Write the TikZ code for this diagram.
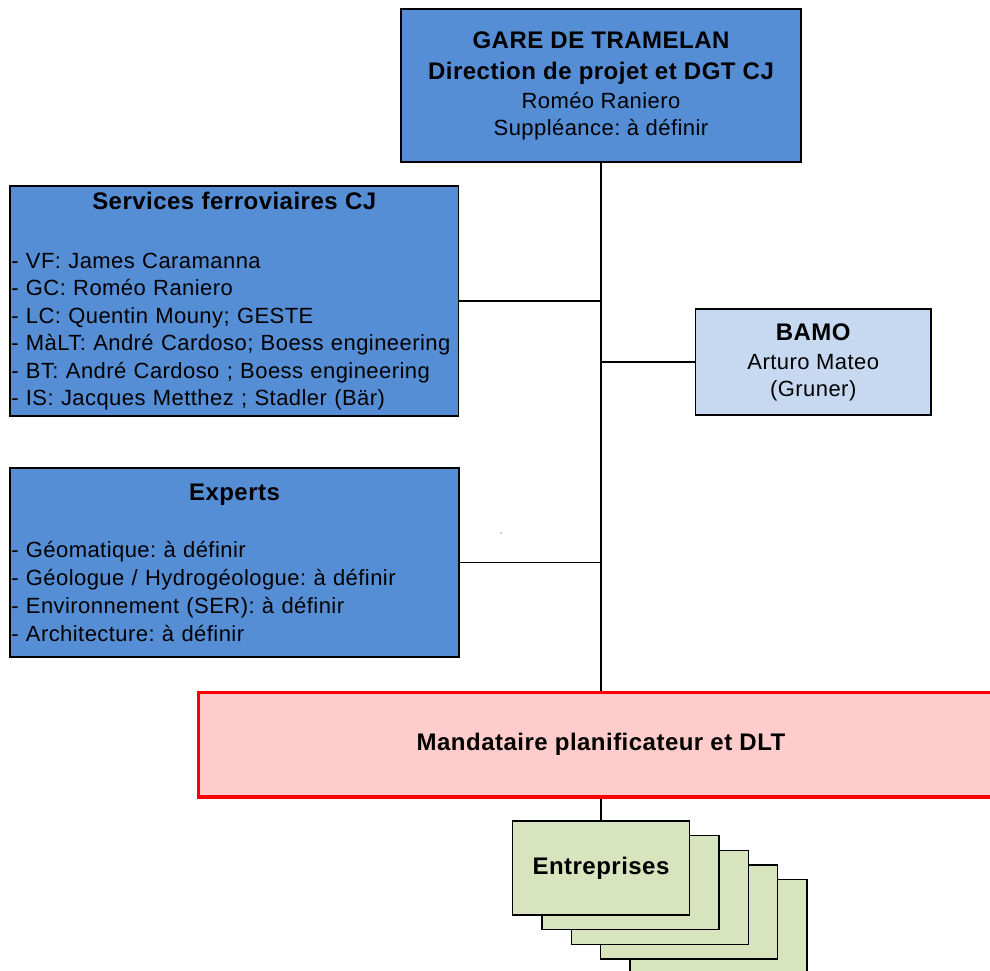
\documentclass[tikz,border=0pt]{standalone}
\usepackage{fontspec}
\setmainfont{Liberation Sans}[LetterSpace=2,Ligatures=NoCommon]
\frenchspacing
\definecolor{cjblue}{RGB}{85,142,213}
\definecolor{bamoblue}{RGB}{198,217,241}
\definecolor{mandpink}{RGB}{255,204,204}
\definecolor{mandred}{RGB}{255,0,0}
\definecolor{entgreen}{RGB}{215,228,189}
\newcommand{\hd}{\fontsize{24}{27}\selectfont\bfseries}
\begin{document}
\begin{tikzpicture}[x=1pt,y=-1pt,
  every node/.style={font=\fontsize{22}{27}\selectfont\frenchspacing},
  cjbox/.style={draw=black, line width=1.3pt, fill=cjblue, inner sep=0pt},
  bamobox/.style={draw=black, line width=1.3pt, fill=bamoblue, inner sep=0pt},
  mandbox/.style={draw=mandred, line width=3.5pt, fill=mandpink, inner sep=0pt},
  entbox/.style={draw=black, line width=1.3pt, fill=entgreen, inner sep=0pt,
    minimum width=177pt, minimum height=94pt},
  conn/.style={draw=black, line width=1.3pt}]
\path[fill=white,use as bounding box] (0,0) rectangle (990,970);

% top box
\node[cjbox, minimum width=400pt, minimum height=153pt, align=center] (top) at (601,85.5)
  {{\hd GARE DE TRAMELAN}\\[4pt]{\hd Direction de projet et DGT CJ}\\[2pt]Roméo Raniero\\Suppléance: à définir};

% services ferroviaires
\node[cjbox, minimum width=448.5pt, minimum height=230pt, text width=446pt, inner xsep=1.25pt, align=left,
  font=\fontsize{22}{27.4}\selectfont\frenchspacing] (serv) at (234.25,301)
  {\makebox[\hsize]{\hd Services ferroviaires CJ}\\[31.6pt]
   - VF: James Caramanna\\
   - GC: Roméo Raniero\\
   - LC: Quentin Mouny; GESTE\\
   - MàLT: André Cardoso; Boess engineering\\
   - BT: André Cardoso ; Boess engineering\\
   - IS: Jacques Metthez ; Stadler (Bär)};

% BAMO
\node[bamobox, minimum width=235.5pt, minimum height=106pt, align=center] (bamo) at (813.25,362)
  {{\hd BAMO}\\[2pt]Arturo Mateo\\(Gruner)};

% experts
\node[cjbox, minimum width=449pt, minimum height=189pt, text width=446.5pt, inner xsep=1.25pt, align=left,
  font=\fontsize{22}{28}\selectfont\frenchspacing] (exp) at (234.5,562.5)
  {\makebox[\hsize]{\hd Experts}\\[29pt]
   - Géomatique: à définir\\
   - Géologue / Hydrogéologue: à définir\\
   - Environnement (SER): à définir\\
   - Architecture: à définir};

% mandataire
\node[mandbox, minimum width=805pt, minimum height=104.5pt] (mand) at (601,744.75)
  {\hd Mandataire planificateur et DLT};

% entreprises stack
\foreach \k in {4,3,2,1}{
  \node[entbox] (ent\k) at (601+29.4*\k, 868+14.7*\k) {};
}
\node[entbox] (ent0) at (601,868) {\hd Entreprises};

% connectors
\draw[conn] (top.south) -- (top.south |- mand.north);
\draw[conn] (serv.east) -- (serv.east -| top.south);
\draw[conn] (bamo.west) -- (bamo.west -| top.south);
\draw[conn] (exp.east) -- (exp.east -| top.south);
\draw[conn] (mand.south) -- (ent0.north);

% stray dot
\fill[black!70] (501,533) circle (0.6pt);
\end{tikzpicture}
\end{document}
